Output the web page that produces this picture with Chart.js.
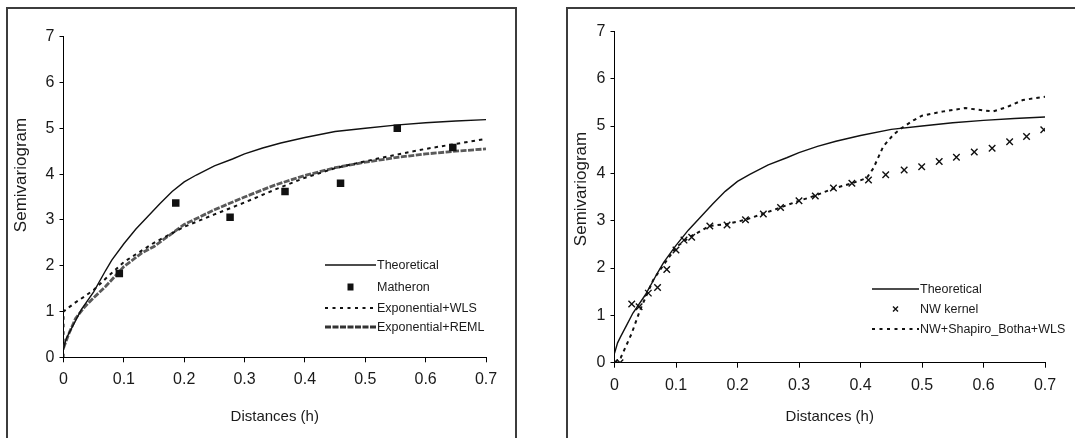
<!DOCTYPE html>
<html>
<head>
<meta charset="utf-8">
<script src="https://cdn.jsdelivr.net/npm/chart.js@4.4.1/dist/chart.umd.min.js"></script>
<style>
  body { margin: 0; background: #fff; width: 1075px; height: 438px; overflow: hidden; position: relative;
         font-family: "Liberation Sans", Arial, sans-serif; }
  canvas { position: absolute; top: 0; }
  .frame { position: absolute; box-sizing: border-box; border: 2px solid #3c3c3c; pointer-events: none; }
  .key { position: absolute; display: flex; align-items: center; height: 16px; font-size: 12.5px; color: #1a1a1a; white-space: nowrap; }
  .key svg { display: block; margin-right: 1px; }
</style>
</head>
<body>
<div class="frame" style="left:6px; top:7px; width:511px; height:460px;"></div>
<div class="frame" style="left:566px; top:7px; width:530px; height:460px;"></div>
<canvas id="left" width="540" height="438" style="left:0"></canvas>
<canvas id="right" width="535" height="438" style="left:540px"></canvas>

<script>
// theoretical semivariogram (same model in both panels)
const theoH = [0, 0.005, 0.01, 0.02, 0.03, 0.05, 0.07, 0.08, 0.1, 0.12, 0.14, 0.16, 0.18, 0.2, 0.22, 0.25, 0.28, 0.3, 0.33, 0.36, 0.4, 0.45, 0.5, 0.55, 0.6, 0.65, 0.7];
const theoG = [0.2, 0.42, 0.55, 0.8, 1.05, 1.43, 1.9, 2.12, 2.48, 2.8, 3.08, 3.36, 3.62, 3.83, 3.98, 4.18, 4.33, 4.44, 4.57, 4.68, 4.8, 4.93, 5.0, 5.07, 5.12, 5.16, 5.19];

// left panel: Matheron estimates and fitted exponential models
const matheronH = [0.0925, 0.186, 0.276, 0.367, 0.459, 0.553, 0.645];
const matheronG = [1.83, 3.37, 3.06, 3.62, 3.80, 5.0, 4.58];

const wlsH = [0, 0, 0.01, 0.02, 0.035, 0.05, 0.07, 0.1, 0.12, 0.15, 0.2, 0.25, 0.3, 0.35, 0.4, 0.45, 0.5, 0.55, 0.6, 0.65, 0.7];
const wlsG = [0, 1.0, 1.1, 1.2, 1.33, 1.47, 1.72, 2.08, 2.25, 2.5, 2.85, 3.12, 3.38, 3.66, 3.92, 4.13, 4.28, 4.42, 4.55, 4.66, 4.77];

const remlH = [0, 0.005, 0.01, 0.02, 0.035, 0.05, 0.07, 0.1, 0.13, 0.15, 0.2, 0.25, 0.3, 0.35, 0.4, 0.45, 0.5, 0.55, 0.6, 0.65, 0.7];
const remlG = [0.2, 0.38, 0.55, 0.85, 1.1, 1.3, 1.55, 1.98, 2.28, 2.42, 2.9, 3.22, 3.5, 3.76, 3.97, 4.14, 4.26, 4.36, 4.44, 4.5, 4.55];

// right panel: Nadaraya-Watson kernel estimates and the Shapiro-Botha fit
const nwH = [0, 0.009, 0.028, 0.040, 0.055, 0.070, 0.085, 0.100, 0.113, 0.1255, 0.155, 0.183, 0.213, 0.242, 0.270, 0.300, 0.3265, 0.356, 0.386, 0.413, 0.441, 0.471, 0.4995, 0.528, 0.556, 0.585, 0.614, 0.6425, 0.670, 0.698];
const nwG = [0, 0, 1.24, 1.18, 1.47, 1.59, 1.97, 2.38, 2.59, 2.65, 2.89, 2.91, 3.02, 3.14, 3.28, 3.42, 3.52, 3.69, 3.79, 3.86, 3.97, 4.07, 4.14, 4.25, 4.34, 4.45, 4.53, 4.67, 4.78, 4.92];

const sbH = [0, 0.01, 0.028, 0.0415, 0.063, 0.08, 0.101, 0.123, 0.155, 0.183, 0.213, 0.242, 0.27, 0.3, 0.3265, 0.356, 0.386, 0.41, 0.421, 0.437, 0.453, 0.467, 0.486, 0.5, 0.535, 0.57, 0.6, 0.616, 0.638, 0.664, 0.7];
const sbG = [0, 0.1, 0.62, 1.11, 1.75, 2.07, 2.45, 2.66, 2.89, 2.93, 3.02, 3.15, 3.28, 3.42, 3.53, 3.68, 3.79, 3.9, 4.11, 4.57, 4.81, 4.96, 5.12, 5.22, 5.31, 5.38, 5.33, 5.31, 5.4, 5.55, 5.62];

const xTicks = [0, 0.1, 0.2, 0.3, 0.4, 0.5, 0.6, 0.7];
const yTicks = [0, 1, 2, 3, 4, 5, 6, 7];
const xTitle = 'Distances (h)';
const yTitle = 'Semivariogram';

const FONT = '"Liberation Sans", Arial, sans-serif';
const INK = '#1a1a1a';

const pts = (xs, ys) => xs.map((x, i) => ({ x: x, y: ys[i] }));

function lineSet(label, xs, ys, color, width, dash) {
    return {
        label: label, data: pts(xs, ys), showLine: true, borderColor: color, borderWidth: width,
        borderDash: dash || [], pointRadius: 0, tension: 0, fill: false
    };
}

// rotated y-axis title, placed by hand
const sideTitle = {
    id: 'sideTitle',
    afterDraw(chart, args, opts) {
        const ctx = chart.ctx;
        ctx.save();
        ctx.translate(opts.x, opts.y);
        ctx.rotate(-Math.PI / 2);
        ctx.font = '17px ' + FONT;
        ctx.fillStyle = INK;
        ctx.textAlign = 'center';
        ctx.textBaseline = 'middle';
        ctx.fillText(opts.text, 0, 0);
        ctx.restore();
    }
};

function makeChart(id, datasets, g) {
    return new Chart(document.getElementById(id), {
        type: 'scatter',
        data: { datasets: datasets },
        plugins: [sideTitle],
        options: {
            responsive: false,
            animation: false,
            devicePixelRatio: 1,
            layout: { padding: { left: 0, top: g.top, right: g.right, bottom: 0 } },
            plugins: {
                legend: { display: false },
                tooltip: { enabled: false },
                sideTitle: { text: yTitle, x: g.titleX, y: g.titleY }
            },
            scales: {
                x: {
                    type: 'linear', min: 0, max: 0.7,
                    afterBuildTicks: s => { s.ticks = xTicks.map(v => ({ value: v })); },
                    afterFit: s => { s.height = g.xHeight; },
                    border: { display: true, color: '#000', width: 1 },
                    grid: { drawOnChartArea: false, drawTicks: true, tickLength: 5, color: '#000' },
                    ticks: { padding: 8, color: INK, font: { family: FONT, size: 16 }, maxRotation: 0,
                             callback: v => String(+v.toFixed(1)) },
                    title: { display: true, text: xTitle, color: INK, font: { family: FONT, size: 15 },
                             padding: { top: 0, bottom: 12 } }
                },
                y: {
                    type: 'linear', min: 0, max: 7,
                    afterBuildTicks: s => { s.ticks = yTicks.map(v => ({ value: v })); },
                    afterFit: s => { s.width = g.yWidth; },
                    border: { display: true, color: '#000', width: 1 },
                    grid: { drawOnChartArea: false, drawTicks: true, tickLength: 4, color: '#000' },
                    ticks: { padding: 5, color: INK, font: { family: FONT, size: 16 } }
                }
            }
        }
    });
}

makeChart('left', [
    lineSet('Theoretical', theoH, theoG, '#111', 1.4),
    {
        label: 'Matheron', data: pts(matheronH, matheronG), pointStyle: 'rect',
        pointRadius: 5.3, backgroundColor: '#111', borderWidth: 0
    },
    lineSet('Exponential+WLS', wlsH, wlsG, '#111', 2, [3.5, 4]),
    lineSet('Exponential+REML', remlH, remlG, '#5a5a5a', 2.8, [6, 1.5])
], { top: 36.7, right: 54, yWidth: 63.5, xHeight: 80.7, titleX: 21, titleY: 175 });

makeChart('right', [
    lineSet('Theoretical', theoH, theoG, '#111', 1.4),
    {
        label: 'NW kernel', data: pts(nwH, nwG), pointStyle: 'crossRot',
        pointRadius: 4.6, borderColor: '#111', borderWidth: 1.4
    },
    lineSet('NW+Shapiro_Botha+WLS', sbH, sbG, '#111', 2, [3.5, 4])
], { top: 31.4, right: 30, yWidth: 74.5, xHeight: 75.3, titleX: 41, titleY: 189 });

// legends sit inside each plot, lower right
function addKey(x, cy, len, kind, text) {
    const row = document.createElement('div');
    row.className = 'key';
    row.style.left = x + 'px';
    row.style.top = (cy - 8) + 'px';
    const m = len / 2;
    let mark = '';
    if (kind === 'solid') mark = `<line x1="0" y1="8" x2="${len}" y2="8" stroke="#111" stroke-width="1.5"/>`;
    if (kind === 'dot') mark = `<line x1="0" y1="8" x2="${len}" y2="8" stroke="#111" stroke-width="2" stroke-dasharray="3 4.5"/>`;
    if (kind === 'dash') mark = `<line x1="0" y1="8" x2="${len}" y2="8" stroke="#333" stroke-width="3" stroke-dasharray="6 1.5"/>`;
    if (kind === 'square') mark = `<rect x="${m - 3}" y="4.5" width="6" height="7" fill="#111"/>`;
    if (kind === 'cross') mark = `<path d="M${m - 2.5} 5.5 L${m + 2.5} 10.5 M${m + 2.5} 5.5 L${m - 2.5} 10.5" stroke="#111" stroke-width="1.4"/>`;
    row.innerHTML = `<svg width="${len}" height="16">${mark}</svg><span>${text}</span>`;
    document.body.appendChild(row);
}

addKey(325, 265, 51, 'solid', 'Theoretical');
addKey(325, 286.5, 51, 'square', 'Matheron');
addKey(325, 307.5, 51, 'dot', 'Exponential+WLS');
addKey(325, 327, 51, 'dash', 'Exponential+REML');

addKey(872, 288.5, 47, 'solid', 'Theoretical');
addKey(872, 308.5, 47, 'cross', 'NW kernel');
addKey(872, 329, 47, 'dot', 'NW+Shapiro_Botha+WLS');
</script>
</body>
</html>
